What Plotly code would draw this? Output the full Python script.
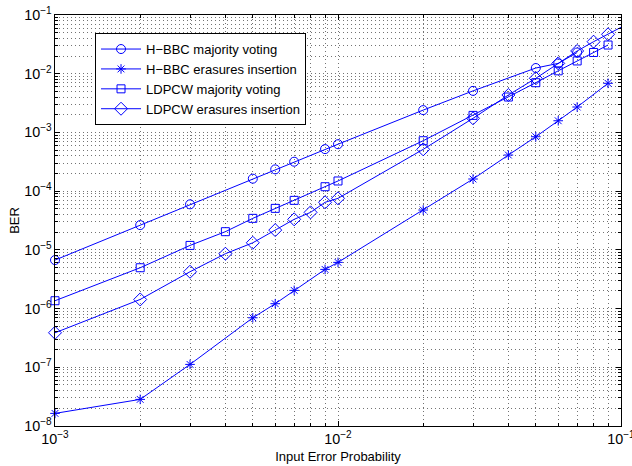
import plotly.graph_objects as go

# H-BBC majority voting
hbbc_mv_x = [0.001, 0.002, 0.003, 0.005, 0.006, 0.007, 0.009, 0.01, 0.02, 0.03, 0.05, 0.06, 0.07]
hbbc_mv_y = [6.7e-6, 2.64e-5, 5.96e-5, 1.63e-4, 2.35e-4, 3.17e-4, 5.2e-4, 6.3e-4, 2.4e-3, 5.1e-3, 1.25e-2, 1.5e-2, 2.3e-2]

# H-BBC erasures insertion
hbbc_ei_x = [0.001, 0.002, 0.003, 0.005, 0.006, 0.007, 0.009, 0.01, 0.02, 0.03, 0.04, 0.05, 0.06, 0.07, 0.09]
hbbc_ei_y = [1.64e-8, 2.84e-8, 1.12e-7, 6.97e-7, 1.21e-6, 2.04e-6, 4.65e-6, 6.12e-6, 4.77e-5, 1.61e-4, 4.12e-4, 8.45e-4, 1.58e-3, 2.71e-3, 6.86e-3]

# LDPCW majority voting
ldpc_mv_x = [0.001, 0.002, 0.003, 0.004, 0.005, 0.006, 0.007, 0.009, 0.01, 0.02, 0.03, 0.04, 0.05, 0.06, 0.07, 0.08, 0.09]
ldpc_mv_y = [1.36e-6, 4.96e-6, 1.19e-5, 2.04e-5, 3.44e-5, 5.09e-5, 6.97e-5, 1.19e-4, 1.49e-4, 7.22e-4, 1.95e-3, 4.01e-3, 7.03e-3, 1.12e-2, 1.65e-2, 2.3e-2, 3.08e-2]

# LDPCW erasures insertion
ldpc_ei_x = [0.001, 0.002, 0.003, 0.004, 0.005, 0.006, 0.007, 0.008, 0.009, 0.01, 0.02, 0.03, 0.04, 0.05, 0.06, 0.07, 0.08, 0.09, 0.1]
ldpc_ei_y = [3.87e-7, 1.43e-6, 4.24e-6, 8.59e-6, 1.32e-5, 2.17e-5, 3.31e-5, 4.35e-5, 6.45e-5, 7.54e-5, 5.15e-4, 1.74e-3, 4.34e-3, 8.35e-3, 1.5e-2, 2.44e-2, 3.51e-2, 4.69e-2, 6.17e-2]

series_names = ["H\u2212BBC majority voting", "H\u2212BBC erasures insertion",
                "LDPCW majority voting", "LDPCW erasures insertion"]
symbols = ["circle-open", "asterisk-open", "square-open", "diamond-open"]
sizes = [9, 8, 8, 10]

BLUE = "#0000FF"
fig = go.Figure()
for name, xs, ys, sym, sz in zip(series_names,
                                 [hbbc_mv_x, hbbc_ei_x, ldpc_mv_x, ldpc_ei_x],
                                 [hbbc_mv_y, hbbc_ei_y, ldpc_mv_y, ldpc_ei_y],
                                 symbols, sizes):
    fig.add_trace(go.Scatter(
        x=xs, y=ys, name=name, mode="lines+markers", cliponaxis=False,
        line=dict(color=BLUE, width=1),
        marker=dict(symbol=sym, size=sz, color=BLUE, line=dict(color=BLUE, width=1)),
    ))

grid = "rgba(0,0,0,0.55)"
FONT = "Liberation Sans, Arial"
axis_common = dict(
    type="log", automargin=False,
    showline=True, linecolor="black", linewidth=1,
    mirror="allticks", ticks="inside", ticklen=5, tickcolor="black",
    showgrid=True, gridcolor=grid, griddash="1px,3px", gridwidth=1,
    exponentformat="power", dtick=1,
    zeroline=False, ticklabeloverflow="allow",
    minor=dict(ticks="inside", ticklen=3, tickcolor="black",
               showgrid=True, gridcolor=grid, griddash="1px,3px", gridwidth=1),
    tickfont=dict(family=FONT, size=11.5, color="black"),
)

fig.update_layout(
    width=632, height=466,
    margin=dict(l=55, r=11, t=15, b=40),
    paper_bgcolor="white", plot_bgcolor="white",
    font=dict(family=FONT, size=12, color="black"),
    xaxis=dict(range=[-3, -1], title=dict(text="Input Error Probability", standoff=6,
                                          font=dict(size=13)), **axis_common),
    yaxis=dict(range=[-8, -1], title=dict(text="BER", standoff=1, font=dict(size=13)),
               **axis_common),
    legend=dict(x=0.0707, y=0.956, xanchor="left", yanchor="top",
                bgcolor="white", bordercolor="black", borderwidth=1,
                font=dict(family=FONT, size=13, color="black"),
                tracegroupgap=0, itemwidth=40),
    showlegend=True,
)

fig.write_html("out.html", config={"displayModeBar": False},
               post_script="document.body.style.margin='0';document.body.style.padding='0';")
